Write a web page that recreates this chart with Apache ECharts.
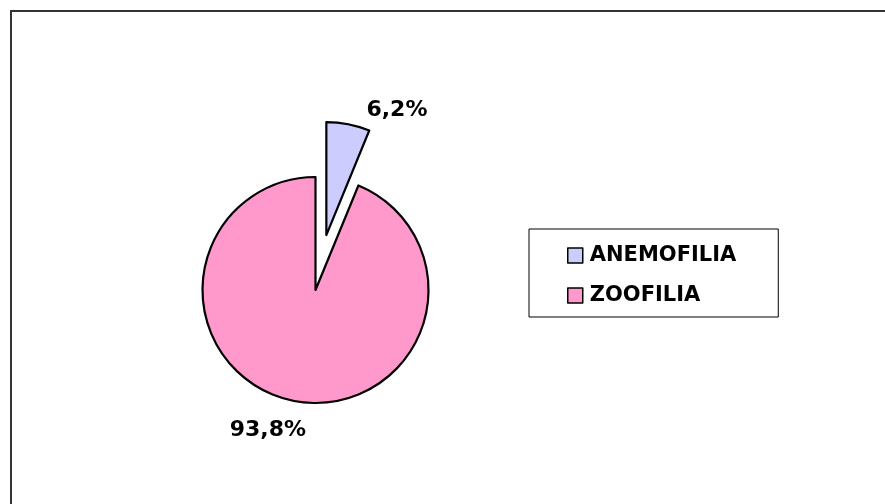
<!DOCTYPE html>
<html>
<head>
<meta charset="utf-8">
<script src="https://cdn.jsdelivr.net/npm/echarts@6/dist/echarts.min.js"></script>
<style>
  html, body { margin: 0; padding: 0; background: #fff; }
  #main { width: 885px; height: 504px; }
</style>
</head>
<body>
<div id="main"></div>
<script>
// dati del grafico
var categories = ['ANEMOFILIA', 'ZOOFILIA'];
var values = [6.2, 93.8];
var colors = ['#CCCCFF', '#FF99CC'];

var FONT = 'DejaVu Sans, Liberation Sans, Arial, sans-serif';

var pieData = [];
for (var i = 0; i < categories.length; i++) {
    pieData.push({
        name: categories[i],
        value: values[i],
        selected: i == 0,
        itemStyle: { color: colors[i] },
        labelLine: i == 0 ? { length: 14, length2: 41 } : { length: 30, length2: 15 }
    });
}

var myChart = echarts.init(document.getElementById('main'));
myChart.setOption({
    animation: false,
    graphic: [{
        type: 'rect',
        shape: { x: 11, y: 11, width: 900, height: 520 },
        style: { fill: 'none', stroke: '#333', lineWidth: 2 },
        silent: true
    }],
    legend: {
        orient: 'vertical',
        left: 529,
        top: 229,
        padding: [16, 42, 11, 38],
        itemGap: 19,
        itemWidth: 15,
        itemHeight: 15,
        icon: 'rect',
        borderColor: '#000',
        borderWidth: 1,
        backgroundColor: '#fff',
        itemStyle: { borderColor: '#000', borderWidth: 1.5 },
        textStyle: { color: '#000', fontSize: 21, fontWeight: 'bold', fontFamily: FONT, padding: [0, 0, 0, 2] },
        selectedMode: false,
        data: categories
    },
    series: [{
        type: 'pie',
        center: [315.5, 290],
        radius: 113,
        startAngle: 90,
        clockwise: true,
        selectedMode: 'single',
        selectedOffset: 56,
        avoidLabelOverlap: false,
        emphasis: { disabled: true },
        itemStyle: { borderColor: '#000', borderWidth: 2.2 },
        select: { itemStyle: { borderColor: '#000', borderWidth: 2.2 } },
        label: {
            show: true,
            position: 'outside',
            color: '#000',
            fontSize: 22,
            fontWeight: 'bold',
            fontFamily: FONT,
            formatter: function(p) {
                return p.value.toFixed(1).replace('.', ',') + '%';
            }
        },
        labelLine: { show: false },
        labelLayout: { align: 'center' },
        data: pieData
    }]
});
</script>
</body>
</html>
